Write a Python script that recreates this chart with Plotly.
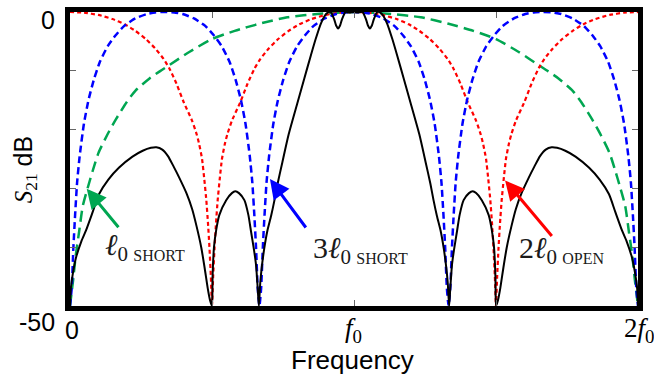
import plotly.graph_objects as go

# ---------------- data (frequency in units of f0, S21 in dB) ----------------
green_f = [0, 0.005, 0.011, 0.02, 0.032, 0.045, 0.063, 0.08, 0.1, 0.13, 0.161, 0.2, 0.23, 0.28,
           0.316, 0.351, 0.42, 0.5, 0.58, 0.667, 0.765, 0.88, 1.0,
           1.12, 1.235, 1.333, 1.42, 1.5, 1.58, 1.649, 1.684, 1.72, 1.77, 1.8, 1.839, 1.87, 1.9,
           1.92, 1.937, 1.955, 1.968, 1.98, 1.989, 1.995, 2.0]
green_db = [-50, -48, -45.6, -41.5, -37.4, -33, -29.8, -27, -24, -21, -18.3, -15.3, -13.4, -11.3,
            -10.1, -9.0, -6.8, -4.6, -3.2, -2.0, -0.9, -0.3, 0,
            -0.3, -0.9, -2.0, -3.2, -4.6, -6.8, -9.0, -10.1, -11.3, -13.4, -15.3, -18.3, -21, -24,
            -27, -29.8, -33, -37.4, -41.5, -45.6, -48, -50]

blue_f = [0, 0.006, 0.012, 0.018, 0.025, 0.034, 0.049, 0.065, 0.084, 0.105, 0.133, 0.16, 0.19, 0.23, 0.27, 0.3, 0.333,
          0.367, 0.397, 0.437, 0.477, 0.507, 0.534, 0.562, 0.583, 0.602, 0.618, 0.633, 0.642, 0.649, 0.655, 0.661, 0.667,
          0.673, 0.679, 0.685, 0.692, 0.701, 0.716, 0.732, 0.751, 0.772, 0.8, 0.827, 0.857, 0.897, 0.937, 0.967, 1.0,
          1.033, 1.063, 1.103, 1.143, 1.173, 1.2, 1.228, 1.249, 1.268, 1.284, 1.299, 1.308, 1.315, 1.321, 1.327, 1.333,
          1.339, 1.345, 1.351, 1.358, 1.367, 1.382, 1.398, 1.417, 1.438, 1.466, 1.493, 1.523, 1.563, 1.603, 1.633, 1.667,
          1.7, 1.73, 1.77, 1.81, 1.84, 1.867, 1.895, 1.916, 1.935, 1.951, 1.966, 1.975, 1.982, 1.988, 1.994, 2.0]
blue_db = [-50, -47, -40, -34.5, -29, -24.5, -19, -15, -11.5, -8.5, -5.8, -4.0, -2.4, -1.1, -0.35, -0.07, 0,
           -0.07, -0.35, -1.1, -2.4, -4.0, -5.8, -8.5, -11.5, -15, -19, -24.5, -29, -34.5, -40, -47, -50,
           -47, -40, -34.5, -29, -24.5, -19, -15, -11.5, -8.5, -5.8, -4.0, -2.4, -1.1, -0.35, -0.07, 0,
           -0.07, -0.35, -1.1, -2.4, -4.0, -5.8, -8.5, -11.5, -15, -19, -24.5, -29, -34.5, -40, -47, -50,
           -47, -40, -34.5, -29, -24.5, -19, -15, -11.5, -8.5, -5.8, -4.0, -2.4, -1.1, -0.35, -0.07, 0,
           -0.07, -0.35, -1.1, -2.4, -4.0, -5.8, -8.5, -11.5, -15, -19, -24.5, -29, -34.5, -40, -47, -50]

red_f = [0, 0.05, 0.1, 0.15, 0.193, 0.23, 0.267, 0.3, 0.33, 0.35, 0.375, 0.4, 0.43, 0.446, 0.455, 0.465, 0.473, 0.48,
         0.486, 0.491, 0.496, 0.5,
         0.504, 0.509, 0.514, 0.52, 0.527, 0.535, 0.545, 0.554, 0.57, 0.6, 0.625, 0.65, 0.67, 0.7, 0.733, 0.77, 0.807,
         0.85, 0.9, 0.95, 1.0,
         1.05, 1.1, 1.15, 1.193, 1.23, 1.267, 1.3, 1.33, 1.35, 1.375, 1.4, 1.43, 1.446, 1.455, 1.465, 1.473, 1.48,
         1.486, 1.491, 1.496, 1.5,
         1.504, 1.509, 1.514, 1.52, 1.527, 1.535, 1.545, 1.554, 1.57, 1.6, 1.625, 1.65, 1.67, 1.7, 1.733, 1.77, 1.807,
         1.85, 1.9, 1.95, 2.0]
red_db = [0, -0.12, -0.5, -1.2, -2.1, -3.2, -4.6, -6.2, -8.0, -9.6, -12.2, -15.3, -18.5, -20.8, -22.5, -25, -28.5, -32,
          -36, -40, -45, -50,
          -45, -40, -36, -32, -28.5, -25, -22.5, -20.8, -18.5, -15.3, -12.2, -9.6, -8.0, -6.2, -4.6, -3.2, -2.1,
          -1.2, -0.5, -0.12, 0,
          -0.12, -0.5, -1.2, -2.1, -3.2, -4.6, -6.2, -8.0, -9.6, -12.2, -15.3, -18.5, -20.8, -22.5, -25, -28.5, -32,
          -36, -40, -45, -50,
          -45, -40, -36, -32, -28.5, -25, -22.5, -20.8, -18.5, -15.3, -12.2, -9.6, -8.0, -6.2, -4.6, -3.2, -2.1,
          -1.2, -0.5, -0.12, 0]

black_f = [0, 0.003, 0.01, 0.021, 0.04, 0.056, 0.08, 0.102, 0.135, 0.172, 0.22, 0.256, 0.285, 0.304, 0.325, 0.345,
           0.365, 0.385, 0.41, 0.43, 0.446, 0.462, 0.474, 0.485, 0.493, 0.5,
           0.502, 0.507, 0.515, 0.526, 0.55, 0.57, 0.582, 0.595, 0.614, 0.628, 0.637, 0.648, 0.655, 0.661, 0.665,
           0.67, 0.675, 0.684, 0.695, 0.708, 0.72, 0.731, 0.748, 0.77, 0.8, 0.825, 0.848, 0.865, 0.883, 0.895,
           0.905, 0.918, 0.93, 0.937, 0.944, 0.951, 0.958, 0.97, 0.985, 1.0,
           1.015, 1.03, 1.042, 1.049, 1.056, 1.063, 1.07, 1.082, 1.095, 1.105, 1.117, 1.135, 1.152, 1.175, 1.2,
           1.23, 1.252, 1.269, 1.28, 1.292, 1.305, 1.316, 1.325, 1.33, 1.335,
           1.339, 1.345, 1.352, 1.363, 1.372, 1.386, 1.405, 1.418, 1.43, 1.45, 1.474, 1.485, 1.493, 1.498, 1.5,
           1.507, 1.515, 1.526, 1.538, 1.554, 1.57, 1.59, 1.615, 1.635, 1.655, 1.675, 1.696, 1.715, 1.744, 1.78,
           1.828, 1.865, 1.898, 1.92, 1.944, 1.96, 1.979, 1.99, 1.997, 2.0]
black_db = [-50, -47, -44.5, -41.8, -39, -37.2, -34, -31, -28.5, -26.5, -24.6, -23.6, -23.1, -23.0, -23.4, -24.5,
            -26.3, -28.2, -30.8, -33.5, -36.5, -40, -43.5, -47, -49, -50,
            -45, -40, -37, -34.5, -32, -30.8, -30.5, -30.8, -32, -34.5, -37.2, -40.5, -43, -47, -50,
            -46, -43.5, -40.2, -37.2, -34.7, -32, -29.2, -25.5, -20.8, -15.6, -11.3, -7.4, -4.6, -2.0, -0.8,
            -0.2, 0, -1.2, -2.3, -2.8, -2.3, -1.2, 0, -0.1, 0,
            -0.1, 0, -1.2, -2.3, -2.8, -2.3, -1.2, 0, -0.2, -0.8, -2.0, -4.6, -7.4, -11.3, -15.6,
            -20.8, -25.5, -29.2, -32, -34.7, -37.2, -40.2, -43.5, -46, -50,
            -47, -43, -40.5, -37.2, -34.5, -32, -30.8, -30.5, -30.8, -32, -34.5, -37, -40, -45, -50,
            -49, -47, -43.5, -40, -36.5, -33.5, -30.8, -28.2, -26.3, -24.5, -23.4, -23.0, -23.1, -23.6, -24.6,
            -26.5, -28.5, -31, -34, -37.2, -39, -41.8, -44.5, -47, -50]

y_minor_ticks = [-40, -30, -20, -10]
x_minor_ticks = [0.5, 1.0, 1.5]

GREEN = "#00a651"
BLUE = "#0000ff"
RED = "#ff0000"

SERIF = "Liberation Serif, DejaVu Serif, serif"
SANS = "Liberation Sans, Arial, sans-serif"

fig = go.Figure()
fig.add_trace(go.Scatter(x=green_f, y=green_db, mode="lines",
                         line=dict(color=GREEN, width=2.5, dash="11px,6px", shape="spline", smoothing=0.6)))
fig.add_trace(go.Scatter(x=red_f, y=red_db, mode="lines",
                         line=dict(color=RED, width=2.2, dash="4px,3px", shape="spline", smoothing=0.5)))
fig.add_trace(go.Scatter(x=blue_f, y=blue_db, mode="lines",
                         line=dict(color=BLUE, width=2.5, dash="7px,4px", shape="spline", smoothing=0.5)))
fig.add_trace(go.Scatter(x=black_f, y=black_db, mode="lines",
                         line=dict(color="black", width=2, shape="spline", smoothing=0.6)))

W, H = 654, 383
L, R, T, B = 70, 16, 7, 77
pw, ph = W - L - R, H - T - B


def px(x):
    return (x - L) / pw


def py(y):
    return (H - B - y) / ph


ann = []
# tick labels
ann.append(dict(x=px(57), y=py(15), text="0", xanchor="right", yanchor="middle",
                font=dict(family=SANS, size=25, color="black")))
ann.append(dict(x=px(57), y=py(322), text="-50", xanchor="right", yanchor="middle",
                font=dict(family=SANS, size=25, color="black")))
ann.append(dict(x=px(72), y=py(330), text="0", xanchor="center", yanchor="middle",
                font=dict(family=SANS, size=25, color="black")))
ann.append(dict(x=px(353), y=py(330), text="<i>f</i><sub>0</sub>", xanchor="center", yanchor="middle",
                font=dict(family=SERIF, size=27, color="black")))
ann.append(dict(x=px(639), y=py(330), text="2<i>f</i><sub>0</sub>", xanchor="center", yanchor="middle",
                font=dict(family=SERIF, size=27, color="black")))
# axis titles
ann.append(dict(x=px(352), y=py(361), text="Frequency", xanchor="center", yanchor="middle",
                font=dict(family=SANS, size=26, color="black")))
ann.append(dict(x=px(25), y=py(167), textangle=-90,
                text='<span style="font-family:Liberation Serif"><i>S</i><sub>21</sub></span> dB',
                xanchor="center", yanchor="middle",
                font=dict(family=SANS, size=25, color="black")))

# curve labels
TXT = "#1a1a1a"


def stub_label(prefix, kind):
    return (prefix + '<i>ℓ</i><sub>0 <span style="font-size:16px">' + kind + '</span></sub>')


ann.append(dict(x=px(145), y=py(246), text=stub_label("", "SHORT"), xanchor="center", yanchor="middle",
                font=dict(family=SERIF, size=30, color=TXT)))
ann.append(dict(x=px(360), y=py(249), text=stub_label("3", "SHORT"), xanchor="center", yanchor="middle",
                font=dict(family=SERIF, size=30, color=TXT)))
ann.append(dict(x=px(561), y=py(249), text=stub_label("2", "OPEN"), xanchor="center", yanchor="middle",
                font=dict(family=SERIF, size=30, color=TXT)))

for a in ann:
    a.update(xref="paper", yref="paper", showarrow=False)

# arrows (head in data coords, tail offset in pixels)
arrows = [
    (0.0588, -30.05, 33, 40, GREEN),
    (0.704, -28.4, 37, 50, BLUE),
    (1.532, -28.65, 48, 57, RED),
]
for hx, hy, axp, ayp, col in arrows:
    ann.append(dict(x=hx, y=hy, xref="x", yref="y", ax=axp, ay=ayp, text="", showarrow=True,
                    arrowhead=2, arrowsize=1.3, arrowwidth=3, arrowcolor=col, standoff=0))

fig.update_layout(
    width=W, height=H,
    margin=dict(l=L, r=R, t=T, b=B, pad=0),
    plot_bgcolor="white", paper_bgcolor="white",
    showlegend=False,
    annotations=ann,
)
fig.update_xaxes(range=[0, 2], showgrid=False, zeroline=False, showline=True, linewidth=5,
                 linecolor="black", mirror="allticks", ticks="inside", ticklen=6, tickwidth=1,
                 tickcolor="#666", tickvals=x_minor_ticks, showticklabels=False)
fig.update_yaxes(range=[-50, 0], showgrid=False, zeroline=False, showline=True, linewidth=5,
                 linecolor="black", mirror="allticks", ticks="inside", ticklen=6, tickwidth=1,
                 tickcolor="#666", tickvals=y_minor_ticks, showticklabels=False)

fig.write_html("out.html", config={"displayModeBar": False},
               post_script="document.body.style.margin='0px';document.body.style.padding='0px';"
                           "document.body.style.overflow='hidden';")
